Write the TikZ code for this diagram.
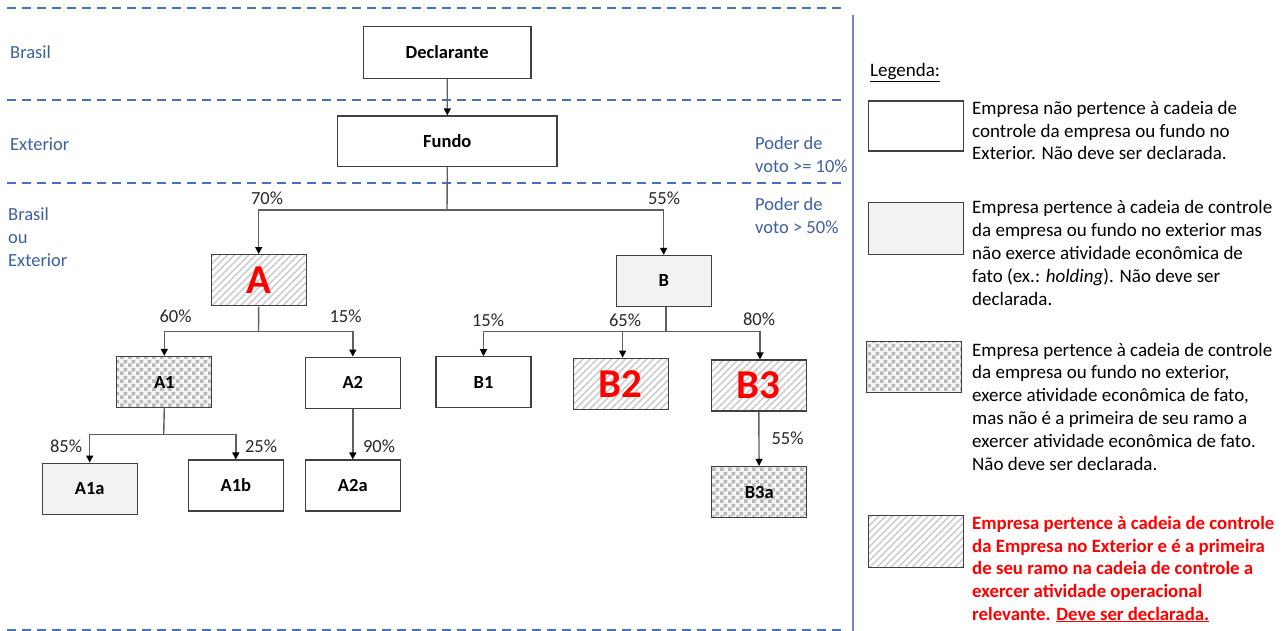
\documentclass[tikz,border=0pt]{standalone}
\usepackage{fontspec}
\setmainfont{Carlito}
\usetikzlibrary{patterns,patterns.meta,arrows.meta}
\pgfdeclarepatternformonly{mychecker}{\pgfpointorigin}{\pgfqpoint{8pt}{8pt}}{\pgfqpoint{8pt}{8pt}}{%
  \pgfpathrectangle{\pgfpointorigin}{\pgfqpoint{4pt}{4pt}}%
  \pgfpathrectangle{\pgfqpoint{4pt}{4pt}}{\pgfqpoint{4pt}{4pt}}%
  \pgfusepath{fill}}
\definecolor{dashblue}{RGB}{68,114,196}
\definecolor{lblblue}{RGB}{60,95,165}
\definecolor{vline}{RGB}{110,135,185}
\definecolor{boxline}{RGB}{64,64,64}
\definecolor{connc}{RGB}{95,95,95}
\definecolor{lightfill}{RGB}{242,242,242}
\definecolor{hatchc}{RGB}{205,205,205}
\definecolor{checkc}{RGB}{185,185,185}
\definecolor{checkbg}{RGB}{245,245,245}
\definecolor{pctc}{RGB}{40,40,40}
\definecolor{redc}{RGB}{255,0,0}
\tikzset{
  ent/.style={draw=boxline, line width=1.2pt, inner sep=0pt, minimum width=95pt, minimum height=51pt,
    font=\fontsize{18.5}{22}\selectfont\bfseries},
  plainbox/.style={ent, fill=white},
  graybox/.style={ent, fill=lightfill},
  hatchbox/.style={ent, pattern={Lines[angle=45,distance=5pt,line width=1.6pt]}, pattern color=hatchc},
  checkbox/.style={ent, preaction={fill=checkbg}, pattern=mychecker, pattern color=checkc},
  bigred/.style={font=\fontsize{41}{44}\selectfont\bfseries, text=redc},
  conn/.style={draw=connc, line width=1.4pt},
  arr/.style={conn, -{Triangle[width=7pt,length=7pt,color=black]}},
  pct/.style={font=\fontsize{18.5}{22}\selectfont, text=pctc, inner sep=0pt, anchor=base},
  region/.style={font=\fontsize{18.5}{23}\selectfont, text=lblblue, inner sep=0pt, anchor=base west, align=left},
  sepline/.style={draw=dashblue, line width=1.4pt, dash pattern=on 9pt off 6pt},
  legtext/.style={font=\fontsize{19}{22.8}\selectfont, inner sep=0pt, anchor=base west, align=left},
  legbold/.style={font=\fontsize{18.8}{22.6}\selectfont\bfseries, text=redc, inner sep=0pt, anchor=base west, align=left},
}
\begin{document}
\begin{tikzpicture}[x=1pt,y=-1pt]
\useasboundingbox (0,0) rectangle (1287,631);

% separators
\draw[sepline] (7,8) -- (845,8);
\draw[sepline] (7,100) -- (845,100);
\draw[sepline] (7,183) -- (845,183);
\draw[sepline] (7,630) -- (845,630);
\draw[draw=vline, line width=1.2pt] (853,15) -- (853,631);

% region labels (multi-line nodes: base = last line)
\node[region] (rBR) at (10,58.3) {Brasil};
\node[region] (rEX) at (10,150.7) {Exterior};
\node[region] (rBE) at (8,266.7) {Brasil\\ou\\Exterior};
\node[region] (rP1) at (755,172.7) {Poder de\\voto >= 10\%};
\node[region] (rP2) at (755,233.3) {Poder de\\voto > 50\%};

% entities
\node[plainbox, minimum width=167.7pt, minimum height=51.6pt] (Decl) at (447.2,52.5) {Declarante};
\node[plainbox, minimum width=219.3pt, minimum height=50.7pt] (Fundo) at (447.3,141.3) {Fundo};
\node[hatchbox] (A) at (258.7,280.3) {};
\node[bigred] (Alab) at (A.center) {A};
\node[graybox] (B) at (663.7,281) {B};
\node[checkbox] (A1) at (164.3,382) {A1};
\node[plainbox] (A2) at (352.8,382.7) {A2};
\node[graybox] (A1a) at (89.7,488.7) {A1a};
\node[plainbox] (A1b) at (235.8,485.5) {A1b};
\node[plainbox] (A2a) at (352.8,485.5) {A2a};
\node[plainbox] (B1) at (483.5,382.3) {B1};
\node[hatchbox] (B2) at (620.8,383.7) {};
\node[bigred] (B2lab) at (B2.center) {B2};
\node[hatchbox] (B3) at (758.7,385.5) {};
\node[bigred] (B3lab) at (B3.center) {B3};
\node[checkbox] (B3a) at (759.2,492) {B3a};

% junctions
\coordinate (jF) at (447,210);
\coordinate (jA) at (258.5,331.3);
\coordinate (jB) at (666,331.7);
\coordinate (jA1) at (163.7,434.3);

% connectors
\draw[arr] (Decl) -- (Fundo);
\draw[conn] (Fundo.south) -- (jF);
\draw[arr] (jF) -| (A.north);
\draw[arr] (jF) -| (B.north);
\draw[conn] (A.south) -- (jA);
\draw[arr] (jA) -| (A1.north);
\draw[arr] (jA) -| (A2.north);
\draw[conn] (B.south -| jB) -- (jB);
\draw[arr] (jB) -| (B1.north);
\draw[arr] (jB) -| ([xshift=1.8pt]B2.north);
\draw[arr] (jB) -| ([xshift=1.3pt]B3.north);
\draw[conn] (A1.south) -- (jA1);
\draw[arr] (jA1) -| (A1a.north);
\draw[arr] (jA1) -| (A1b.north);
\draw[arr] (A2) -- (A2a);
\draw[arr] (B3) -- (B3a);

% percentages
\node[pct] (p70) at (267,204.3) {70\%};
\node[pct] (p55) at (664,204.3) {55\%};
\node[pct] (p60) at (175.5,322.7) {60\%};
\node[pct] (p15a) at (345.5,322.7) {15\%};
\node[pct] (p85) at (66,452) {85\%};
\node[pct] (p25) at (261,452) {25\%};
\node[pct] (p90) at (379,452) {90\%};
\node[pct] (p15b) at (488,326.7) {15\%};
\node[pct] (p65) at (625,326.7) {65\%};
\node[pct] (p80) at (759,325.7) {80\%};
\node[pct] (p55b) at (787.5,444) {55\%};

% legend
\node[legtext] (leg) at (870,76.7) {\underline{Legenda:}};
\node[plainbox, minimum width=95pt, minimum height=50pt] (L1) at (915.8,126) {};
\node[legtext] (T1) at (972,160) {Empresa não pertence à cadeia de\\controle da empresa ou fundo no\\Exterior. Não deve ser declarada.};
\node[graybox, minimum width=95pt, minimum height=51.6pt] (L2) at (915.8,228.5) {};
\node[legtext] (T2) at (972,305) {Empresa pertence à cadeia de controle\\da empresa ou fundo no exterior mas\\não exerce atividade econômica de\\fato (ex.: \textit{holding}). Não deve ser\\declarada.};
\node[checkbox, minimum width=95pt, minimum height=50.6pt] (L3) at (914.2,367) {};
\node[legtext] (T3) at (972,470) {Empresa pertence à cadeia de controle\\da empresa ou fundo no exterior,\\exerce atividade econômica de fato,\\mas não é a primeira de seu ramo a\\exercer atividade econômica de fato.\\Não deve ser declarada.};
\node[hatchbox, minimum width=95pt, minimum height=51.6pt] (L4) at (915.8,541.5) {};
\node[legbold] (T4) at (972,620) {Empresa pertence à cadeia de controle\\da Empresa no Exterior e é a primeira\\de seu ramo na cadeia de controle a\\exercer atividade operacional\\relevante. \underline{Deve ser declarada.}};
\end{tikzpicture}
\end{document}
